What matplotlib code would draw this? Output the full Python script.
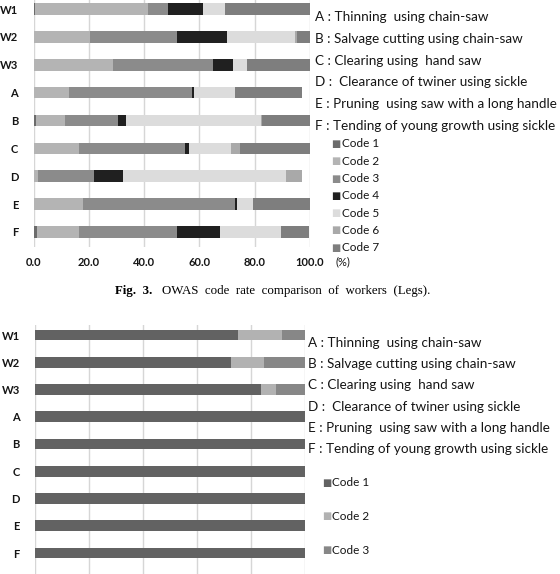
import matplotlib
matplotlib.use("Agg")
import matplotlib.pyplot as plt
import numpy as np

plt.rcParams['font.family'] = ['Lato', 'DejaVu Sans']

W, H = 560, 574

rows = ['W1', 'W2', 'W3', 'A', 'B', 'C', 'D', 'E', 'F']
tasks = ['A : Thinning  using chain-saw',
         'B : Salvage cutting using chain-saw',
         'C : Clearing using  hand saw',
         'D :  Clearance of twiner using sickle',
         'E : Pruning  using saw with a long handle',
         'F : Tending of young growth using sickle']

# legs (%), code 1..7 for each row
legs_codes = ['Code 1', 'Code 2', 'Code 3', 'Code 4', 'Code 5', 'Code 6', 'Code 7']
legs_colors = ['#6b6b6b', '#b4b4b4', '#8b8b8b', '#202020', '#dcdcdc', '#a9a9a9', '#7e7e7e']
legs = {
    'W1': [0.5, 40.8, 7.5, 12.6, 7.9, 0.0, 30.7],
    'W2': [0.0, 20.5, 31.5, 17.9, 24.7, 0.6, 4.8],
    'W3': [0.3, 28.3, 36.2, 7.5, 4.8, 0.0, 22.9],
    'A': [0.0, 12.7, 44.5, 0.9, 14.6, 0.0, 24.3],
    'B': [0.8, 10.6, 19.0, 3.0, 48.8, 0.5, 17.3],
    'C': [0.0, 16.3, 38.6, 1.2, 15.3, 3.4, 25.2],
    'D': [0.0, 1.8, 20.0, 10.7, 58.8, 5.7, 0.0],
    'E': [0.0, 17.8, 55.0, 0.7, 6.0, 0.0, 20.5],
    'F': [1.2, 15.4, 35.4, 15.5, 21.9, 0.0, 10.4],
}

# second chart, code 1..3
low_codes = ['Code 1', 'Code 2', 'Code 3']
low_colors = ['#626262', '#b2b2b2', '#878787']
low = {
    'W1': [75.3, 16.0, 8.7],
    'W2': [72.5, 12.3, 15.2],
    'W3': [83.6, 5.6, 10.8],
    'A': [100, 0, 0], 'B': [100, 0, 0], 'C': [100, 0, 0],
    'D': [100, 0, 0], 'E': [100, 0, 0], 'F': [100, 0, 0],
}
xticks = [0, 20, 40, 60, 80, 100]

TXT = '#151515'


def fx(x):
    return x / W


def fy(y):
    return 1 - y / H


def make_axes(x0, x1, y_top, y_bot, first_c, last_c):
    ax = fig.add_axes([fx(x0), fy(y_bot), fx(x1) - fx(x0), (y_bot - y_top) / H])
    step = (last_c - first_c) / (len(rows) - 1)
    ax.set_ylim(len(rows) - 1 + (y_bot - last_c) / step, -(first_c - y_top) / step)
    ax.set_xlim(0, 100)
    for s in ax.spines.values():
        s.set_visible(False)
    ax.set_xticks(xticks)
    ax.grid(axis='x', color='#d6d6d6', lw=1.0)
    ax.set_axisbelow(True)
    ax.tick_params(length=0)
    ax.set_yticks(range(len(rows)))
    ax.set_yticklabels(rows, fontsize=8, fontweight='bold', color=TXT)
    ax.tick_params(axis='y', pad=11)
    return ax


def stack(ax, data, colors, h):
    y = np.arange(len(rows))
    vals = np.array([data[r] for r in rows])
    left = np.zeros(len(rows))
    for i, c in enumerate(colors):
        ax.barh(y, vals[:, i], left=left, height=h, color=c, edgecolor='none')
        left += vals[:, i]


fig = plt.figure(figsize=(W / 100, H / 100), dpi=100)

# top chart
ax1 = make_axes(33.5, 310, -5, 247, 9, 232)
stack(ax1, legs, legs_colors, 0.42)
ax1.set_xticklabels(['%.1f' % v for v in xticks], fontsize=8, fontweight='bold', color=TXT)
ax1.tick_params(axis='x', pad=7)
fig.text(fx(335), fy(262), '(%)', fontsize=8, va='center', color=TXT)

for i, t in enumerate(tasks):
    fig.text(fx(315), fy(17 + i * 21.8), t, fontsize=9.7, va='center', color=TXT)
for i, (c, lab) in enumerate(zip(legs_colors, legs_codes)):
    fig.text(fx(331), fy(144 + i * 17.3), '\u25a0', fontsize=7, va='center',
             color=c, family='DejaVu Sans')
    fig.text(fx(342), fy(144 + i * 17.3), lab, fontsize=8.5, va='center', color=TXT)

# caption
fig.text(fx(115), fy(291), 'Fig.  3.', fontsize=9.3, va='center', fontweight='bold',
         family=['Liberation Serif', 'DejaVu Serif'])
fig.text(fx(162), fy(291), 'OWAS  code  rate  comparison  of  workers  (Legs).', fontsize=9.3,
         va='center', family=['Liberation Serif', 'DejaVu Serif'])

# bottom chart
ax2 = make_axes(35, 305, 325, 574, 335, 553)
stack(ax2, low, low_colors, 0.4)
ax2.set_xticklabels([])

for i, t in enumerate(tasks):
    fig.text(fx(308), fy(343 + i * 21.2), t, fontsize=9.7, va='center', color=TXT)
for i, (c, lab) in enumerate(zip(low_colors, low_codes)):
    fig.text(fx(322), fy(483 + i * 33.5), '\u25a0', fontsize=7, va='center',
             color=c, family='DejaVu Sans')
    fig.text(fx(332), fy(483 + i * 33.5), lab, fontsize=8.5, va='center', color=TXT)

fig.savefig('out.png', dpi=100)
